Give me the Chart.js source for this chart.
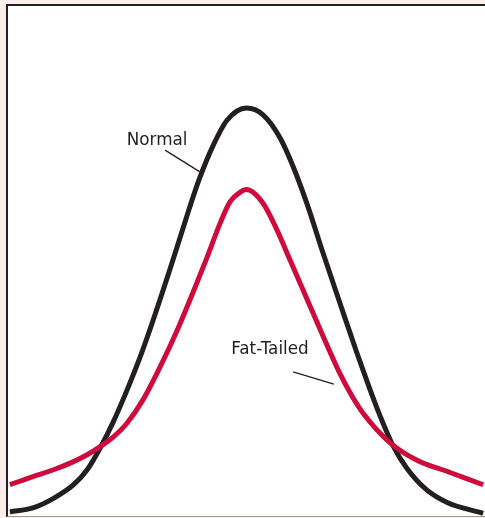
<!DOCTYPE html>
<html>
<head>
<meta charset="utf-8">
<script src="https://cdn.jsdelivr.net/npm/chart.js@4.4.0/dist/chart.umd.min.js"></script>
<style>
  html, body { margin: 0; padding: 0; background: #f9eeea; }
  #frame {
    position: absolute; left: 6px; top: 4px;
    width: 479px; height: 513px;
    box-sizing: border-box;
    background: #fff;
    border-left: 2px solid #231f20;
    border-top: 2px solid #231f20;
    border-bottom: 1px solid #9a9a9a;
  }
  #graph { display: block; }
</style>
</head>
<body>
<div id="frame"><canvas id="graph" width="477" height="510"></canvas></div>
<script>
// x in standard deviations, y as density
const normalX = [-4.01, -3.62, -3.27, -2.93, -2.70, -2.48, -2.26, -2.03, -1.81, -1.59, -1.30, -1.08, -0.91, -0.79, -0.57, -0.33, 0, 0.28, 0.57, 0.79, 1.03, 1.30, 1.58, 1.87, 2.06, 2.26, 2.48, 2.72, 3.06, 3.40, 4.01];
const normalY = [0.003, 0.006, 0.013, 0.023, 0.034, 0.050, 0.069, 0.092, 0.116, 0.143, 0.181, 0.211, 0.234, 0.249, 0.272, 0.291, 0.300, 0.295, 0.278, 0.257, 0.229, 0.193, 0.157, 0.120, 0.097, 0.074, 0.052, 0.035, 0.019, 0.010, 0.002];

const fatX = [-4.01, -3.62, -3.27, -2.93, -2.70, -2.48, -2.26, -2.03, -1.76, -1.46, -1.18, -0.91, -0.67, -0.45, -0.28, -0.11, 0, 0.28, 0.52, 0.74, 1.03, 1.30, 1.58, 1.79, 1.97, 2.43, 2.89, 3.45, 4.01];
const fatY = [0.023, 0.029, 0.034, 0.040, 0.045, 0.051, 0.058, 0.068, 0.085, 0.110, 0.136, 0.164, 0.190, 0.215, 0.231, 0.238, 0.240, 0.230, 0.210, 0.188, 0.159, 0.132, 0.105, 0.088, 0.076, 0.054, 0.041, 0.032, 0.023];

const seriesNames = ['Normal', 'Fat-Tailed'];

// label anchors in data units
const labels = [
  { text: 'Normal', x: -2.03, y: 0.273, line: [-1.38, 0.269, -0.79, 0.253] },
  { text: 'Fat-Tailed', x: -0.26, y: 0.119, line: [0.79, 0.106, 1.48, 0.097] }
];

const pts = (xs, ys) => xs.map((x, i) => ({ x: x, y: ys[i] }));

const labelPlugin = {
  id: 'curveLabels',
  afterDatasetsDraw(chart) {
    const c = chart.ctx;
    const sx = chart.scales.x, sy = chart.scales.y;
    c.save();
    c.fillStyle = '#231f20';
    c.strokeStyle = '#231f20';
    c.lineWidth = 1.3;
    c.font = '16.8px "DejaVu Sans"';
    c.textBaseline = 'alphabetic';
    labels.forEach(l => {
      c.fillText(l.text, sx.getPixelForValue(l.x), sy.getPixelForValue(l.y));
      c.beginPath();
      c.moveTo(sx.getPixelForValue(l.line[0]), sy.getPixelForValue(l.line[1]));
      c.lineTo(sx.getPixelForValue(l.line[2]), sy.getPixelForValue(l.line[3]));
      c.stroke();
    });
    c.restore();
  }
};

const ctx = document.getElementById('graph').getContext('2d');
const chart = new Chart(ctx, {
  type: 'line',
  data: {
    datasets: [
      {
        label: seriesNames[1],
        data: pts(fatX, fatY),
        borderColor: '#cf0a3c',
        borderWidth: 5,
        pointRadius: 0,
        cubicInterpolationMode: 'monotone',
        fill: false
      },
      {
        label: seriesNames[0],
        data: pts(normalX, normalY),
        borderColor: '#231f20',
        borderWidth: 5,
        pointRadius: 0,
        cubicInterpolationMode: 'monotone',
        fill: false
      }
    ]
  },
  options: {
    responsive: false,
    animation: false,
    layout: { padding: 0 },
    plugins: { legend: { display: false }, tooltip: { enabled: false } },
    scales: {
      x: { type: 'linear', min: -4.042, max: 4.042, display: false },
      y: { min: 0, max: 0.375, display: false }
    }
  },
  plugins: [labelPlugin]
});
</script>
</body>
</html>
